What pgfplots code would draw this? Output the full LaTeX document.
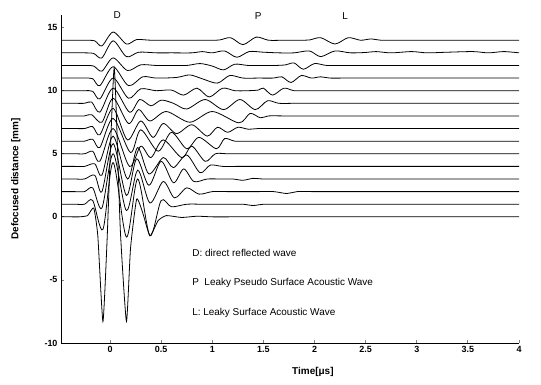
\documentclass[border=0pt]{standalone}
\usepackage{fontspec}
\setmainfont{Liberation Sans}
\usepackage{pgfplots}
\pgfplotsset{compat=1.18}
\begin{document}
\begin{tikzpicture}
\path[use as bounding box] (-61bp,-42bp) rectangle (480bp,343bp);
\begin{axis}[
 at={(0,0)}, anchor=south west,
 scale only axis, width=458bp, height=328bp,
 xmin=-0.48, xmax=4, ymin=-10, ymax=16,
 axis x line*=bottom, axis y line*=left,
 axis line style={-, line width=1pt},
 xtick={0,0.5,1,1.5,2,2.5,3,3.5,4},
 xticklabels={0,0.5,1,1.5,2,2.5,3,3.5,4},
 ytick={-10,-5,0,5,10,15},
 tick align=inside, major tick length=3bp,
 tick style={line width=0.8pt},
 ticklabel style={font=\fontsize{9}{10}\selectfont\bfseries},
 /pgf/number format/assume math mode=true,
 xlabel={Time[μs]}, ylabel={Defocused distance [mm]},
 every axis x label/.style={at={(axis description cs:0.55,0)},anchor=north,yshift=-21bp,font=\fontsize{10}{12}\selectfont\bfseries},
 every axis y label/.style={at={(axis description cs:0,0.5)},rotate=90,anchor=south,yshift=37bp,font=\fontsize{10}{12}\selectfont\bfseries},
 clip=false,
 every axis plot/.append style={black, line width=0.8pt},
]
% trace 14
\addplot[smooth, tension=0.5] coordinates {(-0.47,14.0) (-0.35,14.0) (-0.25,14.0) (-0.15,13.95) (-0.08,13.55) (0.03,14.65) (0.16,13.7) (0.26,14.05) (0.4,14.0) (0.6,14.0) (0.8,14.0) (0.95,14.0) (1.07,14.02) (1.18,14.2) (1.30,13.65) (1.43,14.25) (1.55,14.0) (1.7,14.0) (1.85,14.0) (1.95,14.02) (2.06,14.2) (2.20,13.7) (2.33,14.2) (2.45,14.0) (2.55,14.1) (2.65,14.0) (2.8,14.0) (3.0,14.0) (3.3,14.0) (3.6,14.0) (4.0,14.0)};
% trace 13
\addplot[smooth, tension=0.5] coordinates {(-0.47,13.0) (-0.35,13.0) (-0.25,13.0) (-0.16,12.95) (-0.08,12.6) (0.03,13.95) (0.16,12.7) (0.28,13.05) (0.45,13.0) (0.6,13.0) (0.8,13.0) (0.9,13.1) (1.0,13.0) (1.12,13.15) (1.24,12.65) (1.36,13.1) (1.5,13.05) (1.65,13.0) (1.8,13.0) (1.95,13.15) (2.06,12.7) (2.2,13.15) (2.35,13.0) (2.5,13.03) (2.6,13.1) (2.75,13.0) (2.95,13.1) (3.1,13.0) (3.3,13.05) (3.55,13.1) (3.7,13.0) (3.85,13.1) (4.0,13.0)};
% trace 12
\addplot[smooth, tension=0.5] coordinates {(-0.47,12.0) (-0.35,12.0) (-0.25,12.0) (-0.16,11.95) (-0.08,11.55) (0.03,12.6) (0.17,11.6) (0.3,12.05) (0.45,12.0) (0.6,12.0) (0.75,12.0) (0.88,12.15) (1.0,11.95) (1.11,11.65) (1.22,12.1) (1.35,12.0) (1.5,12.0) (1.62,12.0) (1.72,12.05) (1.8,12.2) (1.89,11.7) (2.0,12.15) (2.12,12.0) (2.3,12.0) (2.6,12.0) (3.0,12.0) (3.5,12.0) (4.0,12.0)};
% trace 11
\addplot[smooth, tension=0.5] coordinates {(-0.47,11.0) (-0.35,11.0) (-0.25,11.0) (-0.17,10.95) (-0.1,10.4) (0.03,11.9) (0.18,10.4) (0.32,11.1) (0.45,11.0) (0.65,11.05) (0.78,11.25) (0.9,10.95) (1.05,10.6) (1.17,11.2) (1.3,11.0) (1.45,11.0) (1.6,11.0) (1.68,11.1) (1.77,10.65) (1.87,11.2) (1.97,11.0) (2.06,11.1) (2.15,11.0) (2.3,11.0) (2.6,11.0) (3.0,11.0) (3.5,11.0) (4.0,11.0)};
% trace 10
\addplot[smooth, tension=0.5] coordinates {(-0.47,10.0) (-0.35,10.0) (-0.25,10.0) (-0.17,9.95) (-0.1,9.35) (0.03,11.0) (0.18,9.4) (0.3,10.15) (0.45,10.0) (0.6,10.05) (0.72,9.65) (0.85,10.2) (0.97,9.5) (1.1,10.2) (1.22,10.0) (1.35,10.0) (1.45,10.05) (1.5,10.2) (1.59,9.65) (1.70,10.2) (1.8,10.0) (1.95,10.0) (2.2,10.0) (2.6,10.0) (3.0,10.0) (3.5,10.0) (4.0,10.0)};
% trace 9
\addplot[smooth, tension=0.5] coordinates {(-0.47,9.0) (-0.35,9.0) (-0.25,9.0) (-0.18,9.1) (-0.1,8.3) (0.03,10.2) (0.19,8.3) (0.29,9.3) (0.4,8.8) (0.5,9.25) (0.62,9.0) (0.75,8.55) (0.93,9.3) (1.11,8.5) (1.27,9.3) (1.42,8.5) (1.54,9.2) (1.65,9.0) (1.8,9.0) (2.0,9.0) (2.4,9.0) (2.8,9.0) (3.2,9.0) (3.6,9.0) (4.0,9.0)};
% trace 8
\addplot[smooth, tension=0.5] coordinates {(-0.47,8.0) (-0.35,8.0) (-0.25,8.0) (-0.18,8.1) (-0.08,7.5) (0.03,9.4) (0.18,7.4) (0.28,8.5) (0.39,7.6) (0.55,8.35) (0.78,7.5) (1.0,8.35) (1.26,7.45) (1.37,8.2) (1.47,7.85) (1.55,8.0) (1.7,8.0) (1.9,8.0) (2.2,8.0) (2.6,8.0) (3.0,8.0) (3.5,8.0) (4.0,8.0)};
% trace 7
\addplot[smooth, tension=0.5] coordinates {(-0.47,7.0) (-0.35,7.0) (-0.25,7.0) (-0.17,7.15) (-0.1,6.5) (0.03,8.6) (0.17,6.1) (0.3,7.6) (0.42,6.3) (0.52,7.4) (0.65,6.6) (0.8,7.3) (0.95,6.4) (1.05,7.1) (1.15,6.7) (1.25,7.1) (1.35,6.95) (1.45,7.0) (1.6,7.0) (1.8,7.0) (2.1,7.0) (2.5,7.0) (3.0,7.0) (3.5,7.0) (4.0,7.0)};
% trace 6
\addplot[smooth, tension=0.5] coordinates {(-0.47,6.0) (-0.35,6.0) (-0.25,6.0) (-0.17,6.15) (-0.1,5.5) (0.03,7.8) (0.2,5.1) (0.3,6.9) (0.47,5.2) (0.6,6.7) (0.75,5.4) (0.87,6.3) (1.04,5.4) (1.12,6.2) (1.22,6.0) (1.35,6.0) (1.55,6.0) (1.8,6.0) (2.2,6.0) (2.6,6.0) (3.0,6.0) (3.5,6.0) (4.0,6.0)};
% trace 5
\addplot[smooth, tension=0.5] coordinates {(-0.47,5.0) (-0.35,5.0) (-0.25,5.0) (-0.17,5.2) (-0.1,4.4) (0.03,7.0) (0.19,4.0) (0.3,5.6) (0.4,4.7) (0.52,6.1) (0.7,4.7) (0.8,5.6) (0.93,4.4) (1.03,5.0) (1.15,5.0) (1.3,5.0) (1.5,5.0) (1.8,5.0) (2.2,5.0) (2.6,5.0) (3.0,5.0) (3.5,5.0) (4.0,5.0)};
% trace 4
\addplot[smooth, tension=0.5] coordinates {(-0.47,4.0) (-0.35,4.0) (-0.25,4.0) (-0.15,4.2) (-0.08,3.3) (0.03,6.4) (0.17,3.0) (0.27,5.5) (0.38,3.4) (0.52,4.7) (0.62,3.9) (0.75,4.9) (0.88,3.5) (0.98,4.1) (1.1,4.0) (1.25,4.0) (1.45,4.0) (1.7,4.0) (2.0,4.0) (2.4,4.0) (2.8,4.0) (3.2,4.0) (3.6,4.0) (4.0,4.0)};
% trace 3
\addplot[smooth, tension=0.5] coordinates {(-0.47,3.0) (-0.35,3.0) (-0.25,3.0) (-0.15,3.3) (-0.08,2.0) (0.03,5.8) (0.16,1.7) (0.26,4.6) (0.38,2.5) (0.5,4.4) (0.62,2.7) (0.72,3.8) (0.82,2.8) (0.95,3.0) (1.08,3.0) (1.2,3.0) (1.3,2.9) (1.4,3.05) (1.5,3.0) (1.7,3.0) (2.0,3.0) (2.4,3.0) (2.8,3.0) (3.2,3.0) (3.6,3.0) (4.0,3.0)};
% trace 2
\addplot[smooth, tension=0.5] coordinates {(-0.47,2.0) (-0.35,2.0) (-0.25,2.0) (-0.17,2.3) (-0.08,0.7) (0.03,5.0) (0.16,0.5) (0.27,3.7) (0.39,1.1) (0.52,2.8) (0.63,1.5) (0.75,2.3) (0.87,1.8) (1.0,2.0) (1.15,2.0) (1.3,2.0) (1.45,2.0) (1.6,2.0) (1.73,1.85) (1.83,2.0) (2.0,2.0) (2.4,2.0) (2.8,2.0) (3.2,2.0) (3.6,2.0) (4.0,2.0)};
% trace 1
\addplot[smooth, tension=0.5] coordinates {(-0.47,1.0) (-0.35,1.0) (-0.25,1.0) (-0.17,1.3) (-0.07,-1.0) (0.03,4.3) (0.16,-1.6) (0.27,3.0) (0.39,-1.5) (0.5,1.3) (0.6,0.8) (0.75,1.0) (0.9,1.0) (1.05,1.0) (1.2,1.0) (1.3,1.0) (1.4,0.9) (1.5,1.0) (1.65,1.0) (1.9,1.0) (2.3,1.0) (2.7,1.0) (3.1,1.0) (3.5,1.0) (4.0,1.0)};
% trace 0
\addplot[smooth, tension=0.3] coordinates {(-0.47,0.0) (-0.38,0.0) (-0.3,0.0) (-0.22,0.1) (-0.16,0.7) (-0.12,-1.5) (-0.07,-8.3) (-0.03,-2.0) (0.04,11.8) (0.1,-1.0) (0.16,-8.3) (0.2,-2.5) (0.26,1.4) (0.32,0.3) (0.39,-1.5) (0.47,-0.3) (0.55,0.1) (0.7,-0.05) (0.85,0.05) (1.0,0.0) (1.2,0.0) (1.5,0.0) (2.0,0.0) (2.5,0.0) (3.0,0.0) (3.5,0.0) (4.0,0.0)};
\node[font=\fontsize{10}{12}\selectfont] at (axis cs:0.07,16.0) {D};
\node[font=\fontsize{10}{12}\selectfont] at (axis cs:1.45,15.9) {P};
\node[font=\fontsize{10}{12}\selectfont] at (axis cs:2.30,15.9) {L};
\node[font=\fontsize{10}{12}\selectfont, anchor=west] at (axis cs:0.77,-2.86) {D: direct reflected wave};
\node[font=\fontsize{10}{12}\selectfont, anchor=west] at (axis cs:0.77,-5.24) {P\ \ Leaky Pseudo Surface Acoustic Wave};
\node[font=\fontsize{10}{12}\selectfont, anchor=west] at (axis cs:0.77,-7.6) {L: Leaky Surface Acoustic Wave};
\end{axis}
\end{tikzpicture}
\end{document}
